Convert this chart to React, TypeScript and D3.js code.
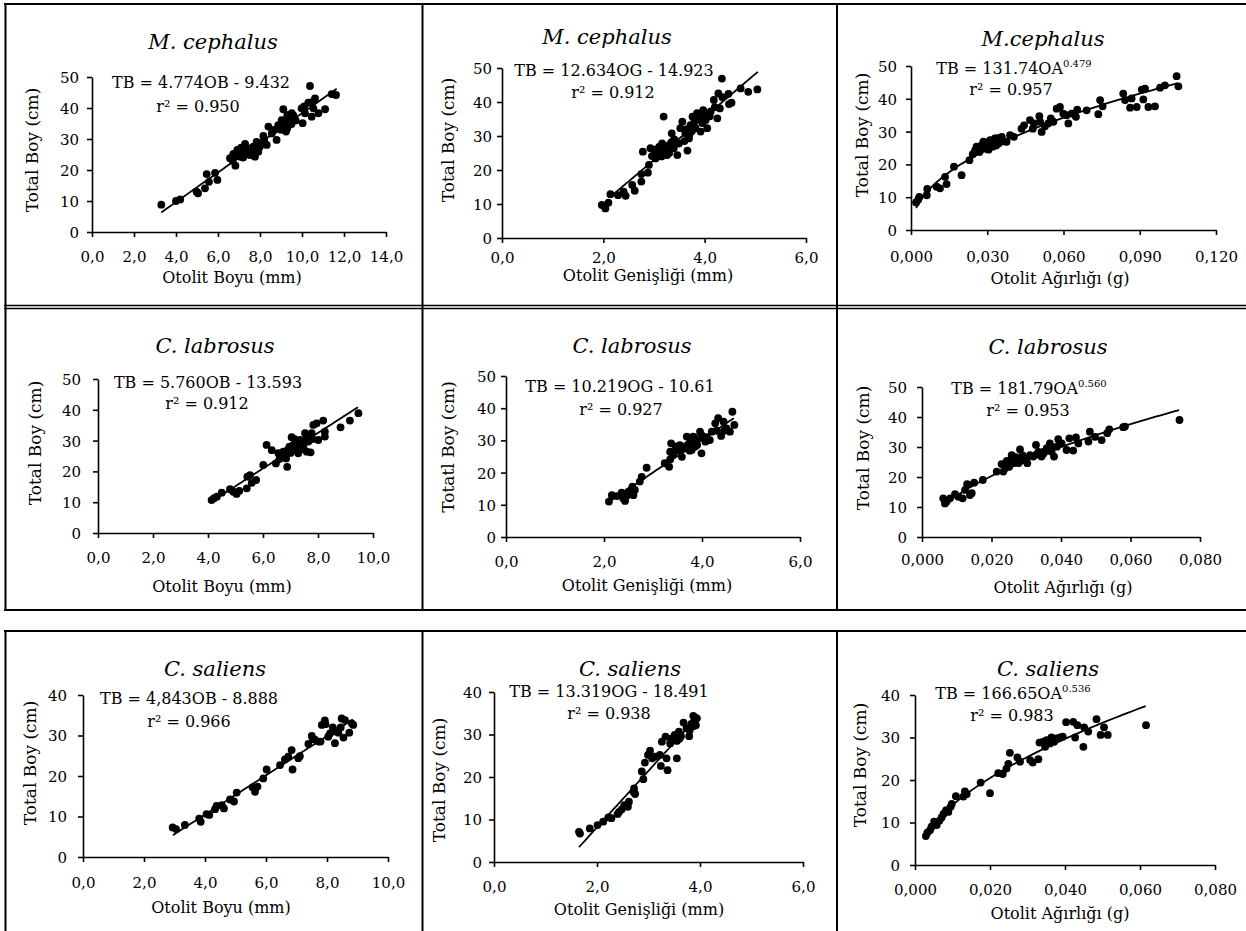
import React, { useEffect, useRef } from "react";
import * as d3 from "d3";

type Pt = [number, number];

// ---- data: [otolith measure, total length cm] ----
const mcBoyu: Pt[] = [
  [3.3, 8.8], [4.0, 10.0], [4.2, 10.5], [4.98, 13.0], [5.05, 12.5], [5.38, 14.1], [5.46, 18.7], [5.57, 16.2],
  [5.86, 19.1], [5.97, 16.8], [6.57, 23.8], [6.7, 23.0], [6.73, 25.2], [6.83, 21.4], [6.9, 24.5], [6.92, 26.5],
  [7.0, 26.0], [7.05, 24.3], [7.1, 27.2], [7.2, 25.9], [7.2, 24.0], [7.29, 28.4], [7.3, 25.0], [7.4, 26.2],
  [7.44, 27.0], [7.52, 24.8], [7.6, 26.0], [7.68, 27.5], [7.76, 24.3], [7.8, 27.0], [7.84, 29.1], [7.9, 28.5],
  [7.92, 25.9], [8.0, 27.6], [8.08, 28.6], [8.16, 31.0], [8.2, 29.8], [8.32, 28.1], [8.4, 34.0], [8.56, 31.8],
  [8.6, 32.5], [8.7, 33.0], [8.79, 29.7], [8.87, 34.5], [9.0, 33.0], [9.03, 36.1], [9.1, 34.5], [9.11, 39.6],
  [9.2, 35.5], [9.24, 32.4], [9.3, 37.7], [9.3, 33.5], [9.4, 37.8], [9.43, 35.6], [9.5, 34.8], [9.51, 38.3],
  [9.59, 36.7], [9.6, 37.5], [9.7, 36.0], [9.98, 39.9], [10.03, 35.1], [10.1, 40.5], [10.14, 38.3], [10.3, 41.7],
  [10.38, 47.1], [10.46, 37.2], [10.5, 42.0], [10.54, 39.9], [10.62, 43.1], [10.78, 38.3], [11.1, 39.6],
  [11.41, 44.5], [11.62, 44.2],
];

const mcGenislik: Pt[] = [
  [1.97, 9.7], [2.04, 8.7], [2.1, 10.4], [2.14, 12.9], [2.29, 12.6], [2.4, 13.6], [2.44, 12.4], [2.57, 15.6],
  [2.62, 13.9], [2.75, 16.6], [2.78, 25.4], [2.75, 18.8], [2.88, 19.2], [2.9, 21.5], [2.93, 26.4], [2.96, 24.1],
  [3.0, 26.0], [3.03, 23.4], [3.05, 25.5], [3.1, 24.9], [3.1, 26.8], [3.15, 24.0], [3.16, 27.8], [3.19, 35.7],
  [3.2, 25.8], [3.23, 26.4], [3.25, 27.0], [3.26, 24.4], [3.3, 25.0], [3.33, 27.8], [3.35, 30.8], [3.35, 28.3],
  [3.39, 26.4], [3.4, 29.0], [3.46, 24.4], [3.49, 27.8], [3.52, 32.3], [3.56, 34.2], [3.6, 28.5], [3.62, 30.8],
  [3.65, 32.0], [3.66, 25.7], [3.69, 29.3], [3.7, 30.5], [3.72, 33.2], [3.75, 31.5], [3.76, 35.7], [3.8, 34.5],
  [3.82, 32.3], [3.85, 36.7], [3.88, 36.2], [3.9, 35.5], [3.92, 31.3], [3.95, 33.8], [3.97, 37.6], [4.0, 36.5],
  [4.02, 34.7], [4.05, 32.3], [4.1, 35.8], [4.12, 37.2], [4.18, 40.6], [4.2, 38.5], [4.25, 35.2], [4.27, 42.5],
  [4.3, 38.1], [4.34, 46.9], [4.35, 41.4], [4.47, 42.4], [4.48, 39.4], [4.53, 39.8], [4.71, 44.0], [4.86, 43.0],
  [5.04, 43.7],
];

const mcAgirlik: Pt[] = [
  [0.002, 8.4], [0.0029, 9.3], [0.0033, 10.1], [0.0062, 10.6], [0.0064, 12.5], [0.0101, 13.2], [0.0114, 12.7],
  [0.0134, 16.2], [0.014, 14.0], [0.0169, 19.3], [0.0199, 16.7], [0.023, 21.3], [0.0243, 23.1], [0.0252, 24.3],
  [0.0258, 25.4], [0.026, 24.8], [0.0269, 23.8], [0.027, 24.0], [0.0278, 25.9], [0.028, 25.0], [0.0285, 26.9],
  [0.029, 26.0], [0.0291, 24.8], [0.03, 25.5], [0.0304, 26.4], [0.0305, 24.5], [0.031, 26.8], [0.0311, 27.4],
  [0.032, 27.0], [0.0321, 25.4], [0.033, 27.9], [0.0335, 25.8], [0.034, 28.0], [0.0344, 26.4], [0.036, 27.0],
  [0.0357, 28.4], [0.0376, 26.9], [0.039, 28.9], [0.0405, 28.4], [0.0435, 30.9], [0.0445, 31.9], [0.0468, 33.5],
  [0.0479, 30.9], [0.0484, 32.5], [0.0505, 34.7], [0.0508, 33.0], [0.0514, 29.9], [0.0527, 31.6], [0.054, 32.5],
  [0.055, 34.0], [0.056, 33.0], [0.0573, 37.0], [0.0586, 37.5], [0.0599, 35.5], [0.0612, 35.0], [0.0619, 32.5],
  [0.0632, 35.5], [0.0649, 34.5], [0.0654, 36.7], [0.0691, 36.5], [0.0737, 35.3], [0.0744, 39.6], [0.0754, 37.7],
  [0.0835, 41.6], [0.0842, 39.6], [0.0862, 37.3], [0.0868, 40.1], [0.0888, 37.5], [0.0908, 42.8], [0.0914, 39.8],
  [0.0921, 43.1], [0.0934, 37.5], [0.096, 37.7], [0.098, 43.4], [0.0999, 44.1], [0.1045, 46.9], [0.1052, 43.8],
];

const clBoyu: Pt[] = [
  [4.13, 10.7], [4.22, 11.3], [4.32, 11.8], [4.5, 13.1], [4.8, 14.2], [4.92, 13.4], [5.04, 12.7], [5.14, 13.7],
  [5.41, 14.5], [5.43, 18.3], [5.53, 18.8], [5.59, 16.3], [5.75, 17.2], [6.01, 22.1], [6.13, 28.6], [6.32, 26.9],
  [6.47, 22.6], [6.56, 25.9], [6.6, 24.0], [6.68, 24.8], [6.74, 26.4], [6.8, 25.3], [6.84, 24.2], [6.88, 21.5],
  [6.9, 27.0], [6.96, 28.0], [7.0, 26.0], [7.04, 31.1], [7.1, 26.9], [7.1, 28.5], [7.15, 30.5], [7.2, 29.1],
  [7.2, 27.5], [7.28, 25.9], [7.3, 29.0], [7.35, 30.2], [7.4, 28.3], [7.45, 27.2], [7.47, 28.0], [7.5, 30.0],
  [7.53, 32.4], [7.59, 26.4], [7.6, 31.5], [7.65, 29.7], [7.73, 26.2], [7.77, 32.4], [7.8, 30.5], [7.83, 35.1],
  [7.95, 35.6], [8.01, 30.2], [8.19, 36.5], [8.25, 31.3], [8.25, 32.9], [8.82, 34.3], [9.16, 36.5], [9.47, 38.9],
];

const clGenislik: Pt[] = [
  [2.1, 11.0], [2.16, 13.0], [2.26, 12.7], [2.36, 13.8], [2.39, 12.0], [2.43, 11.2], [2.46, 12.7], [2.5, 14.1],
  [2.55, 14.6], [2.6, 13.0], [2.58, 15.6], [2.63, 14.6], [2.73, 17.2], [2.77, 18.7], [2.87, 21.5], [3.24, 22.9],
  [3.33, 21.8], [3.35, 24.1], [3.37, 29.1], [3.35, 26.5], [3.41, 25.5], [3.45, 27.0], [3.48, 28.1], [3.52, 26.8],
  [3.55, 28.5], [3.59, 24.9], [3.6, 27.8], [3.65, 27.5], [3.69, 31.2], [3.7, 28.5], [3.75, 26.8], [3.76, 29.6],
  [3.79, 27.0], [3.8, 29.8], [3.82, 31.2], [3.85, 30.8], [3.86, 28.1], [3.89, 30.1], [3.9, 28.6], [3.96, 32.7],
  [3.99, 26.0], [4.0, 31.5], [4.03, 30.6], [4.07, 29.6], [4.1, 31.0], [4.16, 30.1], [4.2, 32.7], [4.27, 35.3],
  [4.3, 33.0], [4.33, 36.9], [4.39, 31.4], [4.44, 35.8], [4.45, 33.0], [4.5, 33.7], [4.57, 32.7], [4.62, 38.9],
  [4.66, 34.8],
];

const clAgirlik: Pt[] = [
  [0.0061, 12.9], [0.0066, 11.2], [0.0071, 11.8], [0.0081, 12.9], [0.0095, 14.3], [0.0105, 13.4], [0.0117, 12.9],
  [0.0124, 15.7], [0.013, 17.6], [0.0138, 14.0], [0.0143, 14.6], [0.015, 18.1], [0.0175, 19.0], [0.0215, 21.8],
  [0.0229, 24.3], [0.0234, 21.8], [0.024, 23.0], [0.0244, 25.4], [0.0251, 23.4], [0.0258, 27.3], [0.026, 25.5],
  [0.0263, 24.6], [0.027, 26.6], [0.0277, 24.6], [0.028, 25.0], [0.0282, 29.2], [0.029, 27.2], [0.0292, 25.7],
  [0.03, 26.0], [0.0303, 24.6], [0.0311, 27.3], [0.032, 26.8], [0.0328, 30.7], [0.033, 27.5], [0.0335, 28.4],
  [0.0344, 26.8], [0.0349, 28.4], [0.035, 27.8], [0.0359, 29.6], [0.036, 28.8], [0.0368, 31.2], [0.037, 30.0],
  [0.0373, 28.4], [0.038, 26.8], [0.0388, 30.1], [0.0392, 32.6], [0.0402, 31.2], [0.0416, 29.0], [0.0424, 32.9],
  [0.0435, 28.8], [0.0443, 33.2], [0.045, 31.2], [0.0479, 31.8], [0.0483, 35.1], [0.0498, 33.4], [0.0517, 32.3],
  [0.0533, 34.6], [0.0539, 35.9], [0.0579, 36.6], [0.0584, 36.8], [0.0741, 39.0],
];

const csBoyu: Pt[] = [
  [2.94, 7.3], [3.05, 6.9], [3.34, 7.9], [3.81, 9.5], [3.86, 8.7], [4.05, 10.6], [4.14, 10.4], [4.33, 11.8],
  [4.38, 12.6], [4.55, 12.8], [4.62, 12.0], [4.82, 14.2], [4.95, 13.7], [5.04, 15.9], [5.56, 17.2], [5.64, 16.1],
  [5.72, 17.4], [5.91, 19.4], [6.02, 21.6], [6.46, 22.7], [6.62, 24.1], [6.73, 24.8], [6.84, 26.4], [6.87, 21.6],
  [7.06, 24.4], [7.11, 24.9], [7.39, 27.9], [7.5, 29.9], [7.55, 29.1], [7.6, 29.0], [7.72, 28.5], [7.79, 28.5],
  [7.83, 32.6], [7.93, 33.7], [7.95, 32.8], [8.04, 29.7], [8.1, 30.5], [8.19, 32.0], [8.26, 28.1], [8.3, 31.0],
  [8.37, 30.7], [8.45, 32.0], [8.48, 34.2], [8.54, 29.5], [8.59, 33.8], [8.73, 30.7], [8.81, 33.0], [8.86, 32.6],
];

const csGenislik: Pt[] = [
  [1.65, 7.1], [1.67, 6.7], [1.86, 7.9], [2.01, 8.7], [2.12, 9.5], [2.22, 10.5], [2.28, 10.3], [2.4, 11.3],
  [2.43, 11.8], [2.48, 12.4], [2.53, 13.4], [2.6, 13.0], [2.62, 14.2], [2.71, 16.5], [2.74, 16.0], [2.72, 17.3],
  [2.87, 21.3], [2.9, 19.5], [2.93, 23.4], [2.99, 25.2], [3.03, 26.2], [3.07, 24.4], [3.13, 24.8], [3.22, 25.2],
  [3.24, 22.6], [3.26, 28.3], [3.33, 29.5], [3.35, 24.4], [3.37, 21.6], [3.42, 27.9], [3.45, 29.1], [3.51, 29.9],
  [3.55, 24.4], [3.55, 28.5], [3.59, 30.7], [3.6, 29.0], [3.63, 29.6], [3.68, 32.8], [3.74, 31.5], [3.79, 29.6],
  [3.8, 31.0], [3.83, 32.5], [3.87, 34.4], [3.88, 32.0], [3.89, 33.4], [3.9, 34.0], [3.92, 32.2], [3.94, 33.8],
];

const csAgirlik: Pt[] = [
  [0.0029, 6.8], [0.0033, 7.6], [0.004, 8.2], [0.0044, 9.0], [0.0051, 10.2], [0.0058, 9.4], [0.0065, 10.4],
  [0.0071, 11.2], [0.0076, 12.0], [0.0083, 12.9], [0.0089, 12.5], [0.0095, 13.7], [0.0098, 14.4], [0.0109, 16.2],
  [0.0129, 16.1], [0.0133, 17.3], [0.0138, 16.7], [0.0175, 19.4], [0.02, 16.9], [0.0222, 21.6], [0.0234, 21.4],
  [0.0244, 22.7], [0.0249, 23.8], [0.0253, 26.4], [0.0273, 25.3], [0.028, 24.3], [0.0307, 24.7], [0.0314, 24.1],
  [0.0329, 24.9], [0.0332, 28.8], [0.0342, 29.0], [0.0347, 27.8], [0.0351, 29.4], [0.036, 28.6], [0.0364, 30.0],
  [0.0371, 29.0], [0.0378, 29.8], [0.0387, 30.0], [0.0394, 30.2], [0.0403, 33.6], [0.0422, 33.7], [0.0427, 30.0],
  [0.0433, 32.9], [0.0449, 27.8], [0.0451, 32.4], [0.0462, 31.4], [0.0484, 34.3], [0.0495, 30.6], [0.0504, 32.4],
  [0.0514, 30.6], [0.0616, 32.9],
];

const series = [mcBoyu, mcGenislik, mcAgirlik, clBoyu, clGenislik, clAgirlik, csBoyu, csGenislik, csAgirlik];

const titles = ["M. cephalus", "M. cephalus", "M.cephalus", "C. labrosus", "C. labrosus", "C. labrosus", "C. saliens", "C. saliens", "C. saliens"];
const equations = [
  "TB = 4.774OB - 9.432", "TB = 12.634OG - 14.923", "TB = 131.74OA",
  "TB = 5.760OB - 13.593", "TB = 10.219OG - 10.61", "TB = 181.79OA",
  "TB = 4,843OB - 8.888", "TB = 13.319OG - 18.491", "TB = 166.65OA",
];
const exponents = ["", "", "0.479", "", "", "0.560", "", "", "0.536"];
const r2Values = ["0.950", "0.912", "0.957", "0.912", "0.927", "0.953", "0.966", "0.938", "0.983"];
const xLabels = [
  "Otolit Boyu (mm)", "Otolit Genişliği (mm)", "Otolit Ağırlığı (g)",
  "Otolit Boyu (mm)", "Otolit Genişliği (mm)", "Otolit Ağırlığı (g)",
  "Otolit Boyu (mm)", "Otolit Genişliği (mm)", "Otolit Ağırlığı (g)",
];
const yLabels = ["Total Boy (cm)", "Total Boy (cm)", "Total Boy (cm)", "Total Boy (cm)", "Totatl Boy (cm)", "Total Boy (cm)", "Total Boy (cm)", "Total Boy (cm)", "Total Boy (cm)"];

// regression: "lin" -> a*x + b, "pow" -> a*x^b ; drawn over [from, to]
const fitKind = ["lin", "lin", "pow", "lin", "lin", "pow", "lin", "lin", "pow"];
const fitA = [4.774, 12.634, 131.74, 5.76, 10.219, 181.79, 4.843, 13.319, 166.65];
const fitB = [-9.432, -14.923, 0.479, -13.593, -10.61, 0.56, -8.888, -18.491, 0.536];
const fitFrom = [3.3, 2.15, 0.002, 4.15, 2.1, 0.0065, 2.95, 1.65, 0.003];
const fitTo = [11.65, 5.05, 0.105, 9.45, 4.65, 0.074, 8.85, 3.9, 0.0615];

const xMaxes = [14, 6, 0.12, 10, 6, 0.08, 10, 6, 0.08];
const xSteps = [2, 2, 0.03, 2, 2, 0.02, 2, 2, 0.02];
const xDecimals = [1, 1, 3, 1, 1, 3, 1, 1, 3];
const yMaxes = [50, 50, 50, 50, 50, 50, 40, 40, 40];

// ---- layout in page pixels ----
const layout = [
  { x0: 92, x1: 386, yB: 232, yT: 77, title: [213, 41], eq: [201, 82], r2: [198, 106], tick: 25, yGap: 13, xt: [232, 277], yt: [32, 150] },
  { x0: 502, x1: 806, yB: 238, yT: 68, title: [607, 36], eq: [614, 70], r2: [613, 92], tick: 20, yGap: 10, xt: [648, 275], yt: [448, 140] },
  { x0: 911, x1: 1216, yB: 230, yT: 66, title: [1043, 38], eq: [1014, 68], r2: [1011, 89], tick: 27, yGap: 14, xt: [1060, 278], yt: [862, 135] },
  { x0: 98, x1: 373, yB: 533, yT: 379, title: [215, 345], eq: [208, 382], r2: [207, 403], tick: 25, yGap: 17, xt: [222, 586], yt: [35, 443] },
  { x0: 506, x1: 800, yB: 537, yT: 376, title: [632, 345], eq: [620, 386], r2: [621, 409], tick: 25, yGap: 10, xt: [647, 585], yt: [448, 447] },
  { x0: 922, x1: 1200, yB: 537, yT: 387, title: [1048, 346], eq: [1029, 388], r2: [1028, 410], tick: 23, yGap: 15, xt: [1063, 587], yt: [863, 448] },
  { x0: 83, x1: 388, yB: 857, yT: 695, title: [215, 668], eq: [189, 698], r2: [189, 721], tick: 26, yGap: 16, xt: [221, 907], yt: [30, 763] },
  { x0: 494, x1: 803, yB: 862, yT: 692, title: [630, 668], eq: [609, 691], r2: [609, 713], tick: 25, yGap: 12, xt: [639, 909], yt: [439, 780] },
  { x0: 915, x1: 1215, yB: 865, yT: 695, title: [1048, 668], eq: [1013, 693], r2: [1012, 715], tick: 25, yGap: 15, xt: [1060, 913], yt: [860, 765] },
];

const W = 1246;
const H = 931;
const FONT = "'DejaVu Serif', serif";

export default function App() {
  const ref = useRef<SVGSVGElement | null>(null);

  useEffect(() => {
    const svg = d3.select(ref.current);
    svg.selectAll("*").remove();

    // table borders
    const borders = svg.append("g").attr("stroke", "#000").attr("fill", "none");
    const hline = (y: number, w: number) => borders.append("line").attr("x1", 4).attr("x2", W).attr("y1", y).attr("y2", y).attr("stroke-width", w);
    const vline = (x: number, a: number, b: number) => borders.append("line").attr("x1", x).attr("x2", x).attr("y1", a).attr("y2", b).attr("stroke-width", 2);
    hline(4, 2);
    hline(305.5, 1.4);
    hline(308.5, 1.4);
    hline(610, 2);
    hline(631, 2);
    [5.5, 422.5, 837].forEach(x => { vline(x, 3, 611); vline(x, 630, H); });

    series.forEach((data, i) => {
      const L = layout[i];
      const g = svg.append("g");
      const x = d3.scaleLinear().domain([0, xMaxes[i]]).range([L.x0, L.x1]);
      const y = d3.scaleLinear().domain([0, yMaxes[i]]).range([L.yB, L.yT]);

      const nx = Math.round(xMaxes[i] / xSteps[i]);
      const xTicks = d3.range(0, nx + 1).map(k => k * xSteps[i]);
      const yTicks = d3.range(0, yMaxes[i] / 10 + 1).map(k => k * 10);
      const fmt = (d: d3.NumberValue) => d3.format(`.${xDecimals[i]}f`)(+d).replace(".", ",");

      const xAxis = g.append("g").attr("transform", `translate(0,${L.yB})`)
        .call(d3.axisBottom(x).tickValues(xTicks).tickSize(5).tickSizeOuter(0).tickFormat(fmt));
      const yAxis = g.append("g").attr("transform", `translate(${L.x0},0)`)
        .call(d3.axisLeft(y).tickValues(yTicks).tickSize(5).tickSizeOuter(0).tickFormat(d3.format("d")));

      [xAxis, yAxis].forEach(ax => {
        ax.attr("font-family", FONT).attr("font-size", 15);
        ax.select(".domain").attr("stroke", "#000").attr("stroke-width", 1.6);
        ax.selectAll(".tick line").attr("stroke", "#000").attr("stroke-width", 1.6);
        ax.selectAll(".tick text").attr("fill", "#000");
      });
      xAxis.selectAll(".tick text").attr("y", L.tick).attr("dy", "0.36em");
      yAxis.selectAll(".tick text").attr("x", -L.yGap).attr("dy", "0.36em");

      // points
      g.append("g").selectAll("circle").data(data).join("circle")
        .attr("cx", d => x(d[0])).attr("cy", d => y(d[1])).attr("r", 3.9).attr("fill", "#000");

      // fitted line
      const f = (v: number) => fitKind[i] === "lin" ? fitA[i] * v + fitB[i] : fitA[i] * Math.pow(v, fitB[i]);
      const xs = d3.range(0, 41).map(k => fitFrom[i] + (fitTo[i] - fitFrom[i]) * k / 40);
      g.append("path")
        .attr("d", d3.line<number>().x(v => x(v)).y(v => y(f(v)))(xs) ?? "")
        .attr("fill", "none").attr("stroke", "#000").attr("stroke-width", 1.8);

      // texts
      g.append("text").attr("x", L.title[0]).attr("y", L.title[1]).attr("dy", "0.36em")
        .attr("text-anchor", "middle").attr("font-family", FONT).attr("font-style", "italic")
        .attr("font-size", 21).text(titles[i]);

      const eq = g.append("text").attr("x", L.eq[0]).attr("y", L.eq[1]).attr("dy", "0.36em")
        .attr("text-anchor", "middle").attr("font-family", FONT).attr("font-size", 16);
      eq.append("tspan").text(equations[i]);
      if (exponents[i]) eq.append("tspan").attr("font-size", 10).attr("dy", -7).text(exponents[i]);

      g.append("text").attr("x", L.r2[0]).attr("y", L.r2[1]).attr("dy", "0.36em")
        .attr("text-anchor", "middle").attr("font-family", FONT).attr("font-size", 16)
        .text(`r² = ${r2Values[i]}`);

      g.append("text").attr("x", L.xt[0]).attr("y", L.xt[1]).attr("dy", "0.36em")
        .attr("text-anchor", "middle").attr("font-family", FONT).attr("font-size", 16).text(xLabels[i]);

      g.append("text").attr("transform", `translate(${L.yt[0]},${L.yt[1]}) rotate(-90)`).attr("dy", "0.36em")
        .attr("text-anchor", "middle").attr("font-family", FONT).attr("font-size", 17).text(yLabels[i]);
    });
  }, []);

  return (
    <svg ref={ref} width={W} height={H}
      style={{ position: "absolute", left: 0, top: 0, background: "#fff" }} />
  );
}
